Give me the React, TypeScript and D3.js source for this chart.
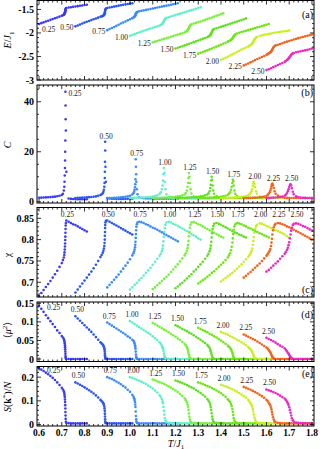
import React from 'react';
import * as d3 from 'd3';

// coupling ratios labelling each curve
const couplings = ['0.25', '0.50', '0.75', '1.00', '1.25', '1.50', '1.75', '2.00', '2.25', '2.50'];
const seriesColors = ['#3a3af5', '#2a55f0', '#3c8cf5', '#5ff0c8', '#78f03c', '#5fe01e', '#6ee614', '#c8f01e', '#f0641e', '#eb28c3'];

// temperatures (T/J1) of every simulated point, one row per coupling
const temps = [
  [0.60, 0.61, 0.62, 0.63, 0.64, 0.65, 0.66, 0.67, 0.68, 0.69, 0.70,
    0.705, 0.709, 0.711, 0.712, 0.713, 0.714, 0.7145, 0.715, 0.7155, 0.716, 0.7165, 0.717, 0.718, 0.72,
    0.73, 0.74, 0.75, 0.76, 0.77, 0.78, 0.79, 0.80, 0.81],
  [0.76, 0.77, 0.78, 0.79, 0.80, 0.81, 0.82, 0.83, 0.84, 0.85, 0.86, 0.87,
    0.875, 0.88, 0.883, 0.885, 0.887, 0.888, 0.889, 0.8895, 0.890, 0.8905, 0.891, 0.892, 0.894,
    0.90, 0.91, 0.92, 0.93, 0.94, 0.95, 0.96, 0.97, 0.98, 0.99, 1.00, 1.01],
  [0.90, 0.91, 0.92, 0.93, 0.94, 0.95, 0.96, 0.97, 0.98, 0.99, 1.00, 1.01,
    1.015, 1.018, 1.02, 1.022, 1.023, 1.024, 1.025, 1.026, 1.027, 1.028, 1.03, 1.033,
    1.04, 1.05, 1.06, 1.07, 1.08, 1.09, 1.10, 1.11, 1.12, 1.13, 1.14, 1.15, 1.16, 1.17, 1.18, 1.19, 1.20, 1.21],
  [1.00, 1.01, 1.02, 1.03, 1.04, 1.05, 1.06, 1.07, 1.08, 1.09, 1.10, 1.11, 1.12, 1.13,
    1.135, 1.14, 1.143, 1.145, 1.147, 1.149, 1.151, 1.153, 1.156, 1.16,
    1.17, 1.18, 1.19, 1.20, 1.21, 1.22, 1.23, 1.24, 1.25, 1.26, 1.27, 1.28, 1.29, 1.30, 1.31],
  [1.10, 1.11, 1.12, 1.13, 1.14, 1.15, 1.16, 1.17, 1.18, 1.19, 1.20, 1.21, 1.22, 1.23, 1.24,
    1.245, 1.25, 1.253, 1.255, 1.257, 1.259, 1.261, 1.263, 1.266, 1.27,
    1.28, 1.29, 1.30, 1.31, 1.32, 1.33, 1.34, 1.35, 1.36, 1.37, 1.38, 1.39, 1.40, 1.41],
  [1.20, 1.21, 1.22, 1.23, 1.24, 1.25, 1.26, 1.27, 1.28, 1.29, 1.30, 1.31, 1.32, 1.33, 1.34,
    1.345, 1.35, 1.353, 1.355, 1.357, 1.359, 1.361, 1.363, 1.366, 1.37,
    1.38, 1.39, 1.40, 1.41, 1.42, 1.43, 1.44, 1.45, 1.46, 1.47, 1.48, 1.49, 1.50, 1.51],
  [1.30, 1.31, 1.32, 1.33, 1.34, 1.35, 1.36, 1.37, 1.38, 1.39, 1.40, 1.41, 1.42, 1.43,
    1.435, 1.44, 1.444, 1.447, 1.45, 1.452, 1.454, 1.456, 1.459, 1.463,
    1.47, 1.48, 1.49, 1.50, 1.51, 1.52, 1.53, 1.54, 1.55, 1.56, 1.57, 1.58, 1.59, 1.60, 1.61],
  [1.40, 1.41, 1.42, 1.43, 1.44, 1.45, 1.46, 1.47, 1.48, 1.49, 1.50, 1.51, 1.52,
    1.525, 1.53, 1.534, 1.537, 1.54, 1.542, 1.544, 1.547, 1.55, 1.554, 1.558,
    1.57, 1.58, 1.59, 1.60, 1.61, 1.62, 1.63, 1.64, 1.65, 1.66, 1.67, 1.68, 1.69, 1.70],
  [1.50, 1.51, 1.52, 1.53, 1.54, 1.55, 1.56, 1.57, 1.58, 1.59, 1.60,
    1.605, 1.61, 1.614, 1.617, 1.62, 1.622, 1.624, 1.626, 1.629, 1.632, 1.636, 1.64,
    1.65, 1.66, 1.67, 1.68, 1.69, 1.70, 1.71, 1.72, 1.73, 1.74, 1.75, 1.76, 1.77, 1.78, 1.79, 1.80],
  [1.60, 1.61, 1.62, 1.63, 1.64, 1.65, 1.66, 1.67, 1.68,
    1.685, 1.69, 1.694, 1.697, 1.70, 1.703, 1.706, 1.709, 1.712, 1.716, 1.72,
    1.73, 1.74, 1.75, 1.76, 1.77, 1.78, 1.79, 1.80],
];

// (a) energy E/J1
const energy = [
  [-1.81, -1.792, -1.775, -1.757, -1.74, -1.722, -1.705, -1.687, -1.67, -1.652, -1.635,
    -1.625, -1.612, -1.60, -1.59, -1.578, -1.565, -1.555, -1.543, -1.53, -1.515, -1.50, -1.49, -1.478, -1.468,
    -1.46, -1.452, -1.445, -1.437, -1.43, -1.422, -1.415, -1.407, -1.40],
  [-1.86, -1.84, -1.82, -1.80, -1.78, -1.762, -1.745, -1.727, -1.71, -1.692, -1.675, -1.657,
    -1.648, -1.638, -1.63, -1.62, -1.605, -1.595, -1.58, -1.565, -1.548, -1.53, -1.512, -1.497, -1.483,
    -1.47, -1.46, -1.45, -1.44, -1.43, -1.42, -1.41, -1.40, -1.393, -1.385, -1.377, -1.37],
  [-1.94, -1.917, -1.895, -1.872, -1.85, -1.825, -1.80, -1.778, -1.755, -1.732, -1.71, -1.685,
    -1.672, -1.662, -1.652, -1.64, -1.63, -1.618, -1.605, -1.592, -1.58, -1.57, -1.56, -1.55,
    -1.54, -1.53, -1.52, -1.51, -1.50, -1.49, -1.48, -1.47, -1.46, -1.45, -1.44, -1.43, -1.42, -1.41, -1.40, -1.39, -1.38, -1.37],
  [-2.06, -2.042, -2.025, -2.007, -1.99, -1.972, -1.955, -1.937, -1.92, -1.905, -1.89, -1.875, -1.86, -1.84,
    -1.83, -1.815, -1.80, -1.785, -1.765, -1.745, -1.728, -1.712, -1.695, -1.68,
    -1.665, -1.65, -1.635, -1.62, -1.605, -1.59, -1.575, -1.56, -1.545, -1.53, -1.515, -1.50, -1.485, -1.47, -1.455],
  [-2.20, -2.185, -2.17, -2.155, -2.14, -2.125, -2.11, -2.095, -2.08, -2.065, -2.05, -2.035, -2.02, -2.005, -1.99,
    -1.975, -1.96, -1.945, -1.93, -1.91, -1.89, -1.87, -1.85, -1.83, -1.815,
    -1.80, -1.785, -1.77, -1.755, -1.74, -1.722, -1.705, -1.688, -1.67, -1.653, -1.636, -1.62, -1.60, -1.58],
  [-2.33, -2.315, -2.30, -2.282, -2.265, -2.248, -2.23, -2.212, -2.195, -2.178, -2.16, -2.142, -2.125, -2.108, -2.09,
    -2.075, -2.06, -2.045, -2.03, -2.01, -1.99, -1.97, -1.95, -1.93, -1.915,
    -1.90, -1.885, -1.87, -1.855, -1.838, -1.82, -1.805, -1.79, -1.773, -1.755, -1.74, -1.725, -1.708, -1.69],
  [-2.44, -2.422, -2.405, -2.387, -2.37, -2.35, -2.33, -2.31, -2.29, -2.27, -2.25, -2.23, -2.21, -2.185,
    -2.172, -2.16, -2.148, -2.135, -2.12, -2.105, -2.088, -2.07, -2.05, -2.03,
    -2.01, -1.996, -1.981, -1.967, -1.953, -1.939, -1.924, -1.91, -1.896, -1.881, -1.867, -1.853, -1.839, -1.824, -1.81],
  [-2.57, -2.55, -2.53, -2.505, -2.48, -2.455, -2.43, -2.405, -2.38, -2.355, -2.33, -2.31, -2.29,
    -2.27, -2.255, -2.24, -2.225, -2.205, -2.185, -2.165, -2.14, -2.12, -2.10, -2.085,
    -2.065, -2.05, -2.04, -2.03, -2.02, -2.01, -2.0, -1.99, -1.985, -1.977, -1.97, -1.963, -1.957, -1.95],
  [-2.69, -2.67, -2.65, -2.625, -2.60, -2.577, -2.555, -2.532, -2.51, -2.49, -2.465,
    -2.45, -2.435, -2.42, -2.41, -2.40, -2.385, -2.365, -2.345, -2.32, -2.30, -2.28, -2.265,
    -2.25, -2.235, -2.22, -2.20, -2.185, -2.17, -2.155, -2.14, -2.125, -2.11, -2.098, -2.085, -2.072, -2.06, -2.047, -2.035],
  [-2.79, -2.77, -2.75, -2.727, -2.705, -2.682, -2.66, -2.64, -2.615,
    -2.595, -2.575, -2.56, -2.545, -2.525, -2.505, -2.485, -2.465, -2.448, -2.435, -2.425,
    -2.41, -2.40, -2.39, -2.38, -2.37, -2.36, -2.345, -2.33],
];

// (b) specific heat C
const heat = [
  [1.6, 1.65, 1.7, 1.75, 1.8, 1.87, 1.95, 2.05, 2.2, 2.4, 2.7,
    3.2, 4.5, 6, 8, 10.5, 13.5, 16.5, 20, 24.5, 44, 38.5, 33, 28.5, 12,
    1.3, 1.15, 1.1, 1.05, 1.05, 1.0, 1.0, 1.0, 1.0],
  [1.5, 1.55, 1.6, 1.65, 1.7, 1.78, 1.85, 1.92, 2.0, 2.15, 2.4, 2.7,
    3.0, 3.4, 4.0, 4.8, 6, 7.5, 9.5, 12, 16, 24, 20.5, 14, 8,
    1.5, 1.3, 1.2, 1.2, 1.15, 1.15, 1.15, 1.15, 1.15, 1.2, 1.2, 1.2],
  [1.4, 1.45, 1.5, 1.55, 1.6, 1.67, 1.75, 1.85, 2.0, 2.2, 2.4, 2.9,
    3.4, 4.0, 4.8, 5.8, 7, 9, 17, 14, 11, 8, 5, 3,
    1.8, 1.5, 1.4, 1.35, 1.3, 1.3, 1.25, 1.25, 1.25, 1.25, 1.25, 1.25, 1.25, 1.25, 1.25, 1.25, 1.25, 1.25],
  [1.5, 1.52, 1.55, 1.57, 1.6, 1.65, 1.7, 1.77, 1.85, 1.95, 2.1, 2.3, 2.6, 3.1,
    3.8, 5, 6.5, 8.5, 11, 13.5, 11.5, 8, 5, 3,
    1.8, 1.6, 1.5, 1.45, 1.4, 1.4, 1.35, 1.35, 1.35, 1.35, 1.35, 1.35, 1.35, 1.35, 1.35],
  [1.5, 1.52, 1.55, 1.57, 1.6, 1.65, 1.7, 1.75, 1.8, 1.9, 2.0, 2.15, 2.3, 2.55, 2.9,
    3.5, 4.5, 6, 7.5, 9.5, 11.5, 10, 7.5, 5, 3.3,
    2.2, 1.8, 1.6, 1.5, 1.45, 1.4, 1.4, 1.4, 1.4, 1.4, 1.4, 1.4, 1.4, 1.4],
  [1.5, 1.52, 1.55, 1.57, 1.6, 1.65, 1.7, 1.75, 1.8, 1.9, 2.0, 2.15, 2.3, 2.55, 2.9,
    3.4, 4.2, 5.5, 6.8, 8.5, 10, 8.8, 6.5, 4.5, 3.2,
    2.2, 1.8, 1.6, 1.55, 1.5, 1.5, 1.5, 1.5, 1.5, 1.5, 1.5, 1.5, 1.5, 1.5],
  [1.5, 1.52, 1.55, 1.57, 1.6, 1.65, 1.7, 1.75, 1.8, 1.9, 2.0, 2.2, 2.4, 2.8,
    3.2, 3.8, 4.8, 6, 7.5, 8.8, 8.2, 6.5, 4.5, 3.2,
    2.3, 1.9, 1.7, 1.6, 1.55, 1.5, 1.5, 1.5, 1.5, 1.5, 1.5, 1.5, 1.5, 1.5, 1.5],
  [1.5, 1.52, 1.55, 1.57, 1.6, 1.65, 1.7, 1.77, 1.85, 1.95, 2.1, 2.3, 2.6,
    3.0, 3.5, 4.2, 5.0, 6.3, 7.3, 8.0, 7.2, 5.8, 4.2, 3.2,
    2.2, 1.8, 1.65, 1.6, 1.5, 1.5, 1.5, 1.5, 1.5, 1.5, 1.5, 1.5, 1.5, 1.5],
  [1.5, 1.52, 1.55, 1.57, 1.6, 1.65, 1.7, 1.8, 1.9, 2.05, 2.3,
    2.7, 3.2, 3.8, 4.5, 5.3, 6.2, 7.0, 7.3, 6.6, 5.5, 4.2, 3.2,
    2.5, 2.0, 1.8, 1.6, 1.55, 1.5, 1.5, 1.5, 1.5, 1.5, 1.5, 1.5, 1.5, 1.5, 1.5, 1.5],
  [1.5, 1.55, 1.6, 1.65, 1.7, 1.8, 1.9, 2.1, 2.4,
    2.8, 3.4, 4.2, 5.0, 5.9, 6.7, 7.0, 6.5, 5.4, 4.0, 3.0,
    2.2, 1.9, 1.7, 1.6, 1.55, 1.5, 1.5, 1.5],
];

// (c) chi
const chi = [
  [0.668, 0.675, 0.682, 0.689, 0.696, 0.703, 0.711, 0.719, 0.727, 0.736, 0.745,
    0.752, 0.758, 0.764, 0.77, 0.777, 0.784, 0.791, 0.799, 0.807, 0.816, 0.825, 0.833, 0.839, 0.845,
    0.842, 0.839, 0.836, 0.834, 0.831, 0.828, 0.825, 0.822, 0.819],
  [0.676, 0.683, 0.69, 0.697, 0.704, 0.711, 0.718, 0.725, 0.733, 0.741, 0.75, 0.759,
    0.764, 0.769, 0.774, 0.779, 0.785, 0.792, 0.8, 0.809, 0.818, 0.827, 0.834, 0.84, 0.844,
    0.845, 0.842, 0.839, 0.836, 0.833, 0.83, 0.827, 0.824, 0.821, 0.818, 0.815, 0.812],
  [0.688, 0.694, 0.70, 0.706, 0.712, 0.718, 0.725, 0.732, 0.739, 0.746, 0.754, 0.763,
    0.768, 0.772, 0.777, 0.782, 0.788, 0.795, 0.804, 0.813, 0.822, 0.83, 0.836, 0.84,
    0.842, 0.841, 0.839, 0.836, 0.834, 0.831, 0.828, 0.826, 0.823, 0.82, 0.817, 0.814, 0.811, 0.808, 0.805, 0.802, 0.799, 0.796],
  [0.683, 0.688, 0.694, 0.699, 0.705, 0.71, 0.716, 0.722, 0.728, 0.734, 0.741, 0.748, 0.755, 0.762,
    0.767, 0.773, 0.779, 0.786, 0.796, 0.807, 0.818, 0.827, 0.835, 0.84,
    0.842, 0.84, 0.837, 0.835, 0.832, 0.829, 0.826, 0.823, 0.82, 0.816, 0.813, 0.81, 0.807, 0.803, 0.80],
  [0.684, 0.688, 0.693, 0.698, 0.703, 0.708, 0.713, 0.718, 0.724, 0.73, 0.736, 0.742, 0.749, 0.756, 0.763,
    0.768, 0.774, 0.78, 0.787, 0.797, 0.808, 0.818, 0.828, 0.835, 0.84,
    0.841, 0.839, 0.836, 0.834, 0.831, 0.828, 0.825, 0.822, 0.819, 0.816, 0.813, 0.81, 0.807, 0.805],
  [0.686, 0.69, 0.695, 0.699, 0.704, 0.709, 0.714, 0.719, 0.725, 0.73, 0.736, 0.742, 0.748, 0.755, 0.762,
    0.767, 0.773, 0.779, 0.786, 0.795, 0.805, 0.815, 0.825, 0.832, 0.837,
    0.839, 0.837, 0.835, 0.832, 0.829, 0.826, 0.823, 0.82, 0.817, 0.815, 0.812, 0.81, 0.807, 0.805],
  [0.697, 0.701, 0.705, 0.709, 0.713, 0.717, 0.722, 0.726, 0.731, 0.736, 0.741, 0.746, 0.752, 0.758,
    0.763, 0.768, 0.775, 0.783, 0.793, 0.803, 0.813, 0.823, 0.831, 0.836,
    0.839, 0.838, 0.836, 0.833, 0.831, 0.828, 0.826, 0.823, 0.82, 0.818, 0.815, 0.813, 0.81, 0.808, 0.805],
  [0.702, 0.706, 0.71, 0.714, 0.718, 0.722, 0.727, 0.732, 0.737, 0.742, 0.748, 0.754, 0.76,
    0.764, 0.768, 0.773, 0.779, 0.788, 0.797, 0.806, 0.816, 0.825, 0.831, 0.835,
    0.838, 0.837, 0.835, 0.832, 0.83, 0.827, 0.825, 0.822, 0.82, 0.817, 0.815, 0.812, 0.808, 0.805],
  [0.711, 0.715, 0.72, 0.724, 0.729, 0.734, 0.739, 0.744, 0.75, 0.756, 0.762,
    0.766, 0.77, 0.774, 0.778, 0.785, 0.793, 0.802, 0.812, 0.822, 0.829, 0.834, 0.837,
    0.839, 0.838, 0.836, 0.834, 0.831, 0.829, 0.826, 0.823, 0.82, 0.818, 0.815, 0.812, 0.809, 0.806, 0.803, 0.80],
  [0.725, 0.729, 0.734, 0.739, 0.744, 0.749, 0.755, 0.761, 0.767,
    0.771, 0.776, 0.781, 0.787, 0.794, 0.803, 0.812, 0.821, 0.828, 0.834, 0.837,
    0.838, 0.837, 0.835, 0.832, 0.83, 0.827, 0.824, 0.821],
];

// (d) <mu^2>
const mu2 = [
  [0.143, 0.135, 0.127, 0.118, 0.110, 0.102, 0.094, 0.086, 0.077, 0.07, 0.062,
    0.058, 0.054, 0.05, 0.046, 0.042, 0.037, 0.032, 0.026, 0.02, 0.014, 0.008, 0.004, 0.001, 0,
    0, 0, 0, 0, 0, 0, 0, 0, 0],
  [0.115, 0.109, 0.103, 0.097, 0.091, 0.085, 0.079, 0.073, 0.066, 0.059, 0.052, 0.045,
    0.042, 0.039, 0.036, 0.033, 0.029, 0.025, 0.02, 0.015, 0.01, 0.006, 0.003, 0.001, 0,
    0, 0, 0, 0, 0, 0, 0, 0, 0, 0, 0, 0],
  [0.098, 0.094, 0.09, 0.086, 0.082, 0.078, 0.074, 0.07, 0.066, 0.061, 0.057, 0.052,
    0.049, 0.046, 0.042, 0.037, 0.033, 0.028, 0.02, 0.012, 0.006, 0.003, 0.001, 0,
    0, 0, 0, 0, 0, 0, 0, 0, 0, 0, 0, 0, 0, 0, 0, 0, 0, 0],
  [0.102, 0.098, 0.094, 0.09, 0.086, 0.082, 0.078, 0.074, 0.07, 0.066, 0.061, 0.056, 0.051, 0.045,
    0.041, 0.036, 0.032, 0.028, 0.022, 0.015, 0.009, 0.005, 0.002, 0.001,
    0, 0, 0, 0, 0, 0, 0, 0, 0, 0, 0, 0, 0, 0, 0],
  [0.097, 0.094, 0.09, 0.087, 0.083, 0.079, 0.076, 0.072, 0.068, 0.064, 0.06, 0.055, 0.051, 0.046, 0.041,
    0.037, 0.032, 0.027, 0.022, 0.016, 0.011, 0.006, 0.003, 0.001, 0,
    0, 0, 0, 0, 0, 0, 0, 0, 0, 0, 0, 0, 0, 0],
  [0.091, 0.088, 0.085, 0.081, 0.078, 0.075, 0.071, 0.068, 0.064, 0.06, 0.056, 0.052, 0.047, 0.043, 0.038,
    0.034, 0.03, 0.025, 0.021, 0.016, 0.011, 0.006, 0.003, 0.001, 0,
    0, 0, 0, 0, 0, 0, 0, 0, 0, 0, 0, 0, 0, 0],
  [0.084, 0.081, 0.078, 0.075, 0.072, 0.068, 0.065, 0.061, 0.058, 0.054, 0.05, 0.046, 0.041, 0.036,
    0.033, 0.03, 0.026, 0.022, 0.017, 0.012, 0.007, 0.003, 0.001, 0,
    0, 0, 0, 0, 0, 0, 0, 0, 0, 0, 0, 0, 0, 0, 0],
  [0.073, 0.07, 0.068, 0.065, 0.062, 0.059, 0.056, 0.052, 0.049, 0.045, 0.041, 0.037, 0.032,
    0.029, 0.026, 0.022, 0.019, 0.015, 0.011, 0.008, 0.004, 0.002, 0.001, 0,
    0, 0, 0, 0, 0, 0, 0, 0, 0, 0, 0, 0, 0, 0],
  [0.066, 0.063, 0.06, 0.057, 0.054, 0.051, 0.047, 0.043, 0.039, 0.035, 0.031,
    0.028, 0.024, 0.021, 0.018, 0.014, 0.011, 0.008, 0.005, 0.003, 0.001, 0, 0,
    0, 0, 0, 0, 0, 0, 0, 0, 0, 0, 0, 0, 0, 0, 0, 0],
  [0.057, 0.054, 0.051, 0.048, 0.044, 0.04, 0.036, 0.033, 0.029,
    0.025, 0.021, 0.017, 0.014, 0.011, 0.008, 0.005, 0.003, 0.001, 0, 0,
    0, 0, 0, 0, 0, 0, 0, 0],
];

// (e) S(k*)/N
const sk = [
  [0.238, 0.232, 0.226, 0.219, 0.212, 0.205, 0.197, 0.188, 0.178, 0.167, 0.155,
    0.148, 0.14, 0.133, 0.125, 0.116, 0.106, 0.095, 0.082, 0.068, 0.053, 0.038, 0.024, 0.012, 0.007,
    0.006, 0.005, 0.005, 0.005, 0.005, 0.005, 0.005, 0.005, 0.005],
  [0.178, 0.173, 0.168, 0.163, 0.157, 0.151, 0.145, 0.138, 0.131, 0.123, 0.114, 0.104,
    0.099, 0.094, 0.089, 0.084, 0.076, 0.068, 0.058, 0.046, 0.034, 0.022, 0.013, 0.008, 0.006,
    0.005, 0.005, 0.005, 0.005, 0.005, 0.005, 0.005, 0.005, 0.005, 0.005, 0.005, 0.005],
  [0.2, 0.196, 0.192, 0.187, 0.182, 0.176, 0.17, 0.163, 0.156, 0.147, 0.138, 0.126,
    0.118, 0.111, 0.104, 0.095, 0.085, 0.074, 0.055, 0.036, 0.022, 0.013, 0.008, 0.006,
    0.005, 0.005, 0.005, 0.005, 0.005, 0.005, 0.005, 0.005, 0.005, 0.005, 0.005, 0.005, 0.005, 0.005, 0.005, 0.005, 0.005, 0.005],
  [0.2, 0.197, 0.193, 0.189, 0.185, 0.181, 0.176, 0.171, 0.165, 0.159, 0.152, 0.144, 0.135, 0.124,
    0.117, 0.108, 0.098, 0.09, 0.075, 0.058, 0.042, 0.028, 0.017, 0.011,
    0.008, 0.006, 0.005, 0.005, 0.005, 0.005, 0.005, 0.005, 0.005, 0.005, 0.005, 0.005, 0.005, 0.005, 0.005],
  [0.19, 0.187, 0.183, 0.179, 0.175, 0.171, 0.166, 0.161, 0.156, 0.15, 0.144, 0.137, 0.129, 0.121, 0.111,
    0.103, 0.094, 0.085, 0.075, 0.062, 0.047, 0.033, 0.021, 0.013, 0.009,
    0.007, 0.006, 0.005, 0.005, 0.005, 0.005, 0.005, 0.005, 0.005, 0.005, 0.005, 0.005, 0.005, 0.005],
  [0.186, 0.183, 0.179, 0.175, 0.171, 0.167, 0.162, 0.157, 0.152, 0.146, 0.14, 0.133, 0.126, 0.118, 0.108,
    0.101, 0.093, 0.084, 0.074, 0.062, 0.048, 0.034, 0.022, 0.014, 0.009,
    0.007, 0.006, 0.005, 0.005, 0.005, 0.005, 0.005, 0.005, 0.005, 0.005, 0.005, 0.005, 0.005, 0.005],
  [0.178, 0.175, 0.171, 0.167, 0.163, 0.159, 0.154, 0.149, 0.144, 0.138, 0.132, 0.125, 0.117, 0.107,
    0.101, 0.095, 0.087, 0.078, 0.066, 0.054, 0.04, 0.027, 0.017, 0.011,
    0.008, 0.006, 0.005, 0.005, 0.005, 0.005, 0.005, 0.005, 0.005, 0.005, 0.005, 0.005, 0.005, 0.005, 0.005],
  [0.168, 0.165, 0.161, 0.157, 0.153, 0.149, 0.144, 0.139, 0.133, 0.127, 0.12, 0.113, 0.104,
    0.097, 0.09, 0.083, 0.076, 0.066, 0.055, 0.043, 0.03, 0.02, 0.013, 0.009,
    0.007, 0.006, 0.005, 0.005, 0.005, 0.005, 0.005, 0.005, 0.005, 0.005, 0.005, 0.005, 0.005, 0.005],
  [0.159, 0.155, 0.151, 0.147, 0.142, 0.137, 0.132, 0.126, 0.12, 0.113, 0.105,
    0.099, 0.092, 0.086, 0.08, 0.072, 0.064, 0.053, 0.042, 0.031, 0.021, 0.014, 0.01,
    0.008, 0.006, 0.005, 0.005, 0.005, 0.005, 0.005, 0.005, 0.005, 0.005, 0.005, 0.005, 0.005, 0.005, 0.005, 0.005],
  [0.148, 0.145, 0.141, 0.137, 0.133, 0.128, 0.122, 0.116, 0.11,
    0.104, 0.097, 0.09, 0.083, 0.073, 0.062, 0.05, 0.038, 0.027, 0.018, 0.012,
    0.009, 0.007, 0.006, 0.005, 0.005, 0.005, 0.005, 0.005],
];

const xTicks = [0.6, 0.7, 0.8, 0.9, 1.0, 1.1, 1.2, 1.3, 1.4, 1.5, 1.6, 1.7, 1.8];
const energyTicks = [-3, -2.5, -2, -1.5];
const heatTicks = [0, 20, 40];
const chiTicks = [0.7, 0.75, 0.8, 0.85];
const mu2Ticks = [0, 0.05, 0.1, 0.15];
const skTicks = [0, 0.1, 0.2];

const W = 320;
const H = 449;
const LEFT = 37;
const RIGHT = 314;
const SERIF = '"Liberation Serif", "DejaVu Serif", serif';

const x = d3.scaleLinear().domain([0.591, 1.809]).range([LEFT, RIGHT]);

function steps(d0: number, d1: number, step: number) {
  const out: number[] = [];
  for (let k = Math.ceil(d0 / step - 1e-6); k * step <= d1 + 1e-9; k++) out.push(+(k * step).toFixed(6));
  return out;
}

function argmax(v: number[]) {
  let b = 0;
  v.forEach((d, i) => { if (d > v[b]) b = i; });
  return b;
}

const sub = (s: string) => <tspan dy={2.5} fontSize={7} fontStyle="normal">{s}</tspan>;

const panels = [
  {
    id: 'a', values: energy, top: 0.5, bottom: 80, domain: [-3, -1.31], ticks: energyTicks, minor: 0.1,
    letter: '(a)', letterY: 18, titleY: 40,
    title: <><tspan fontStyle="italic">E</tspan>/<tspan fontStyle="italic">J</tspan>{sub('1')}</>,
    label: (i: number, ts: number[], vs: number[], y: any) =>
      i === 0 ? { lx: x(ts[0]) + 3, ly: y(vs[0]) + 8, anchor: 'start' } : { lx: x(ts[0]) - 2, ly: y(vs[0]) + 4, anchor: 'end' },
  },
  {
    id: 'b', values: heat, top: 85, bottom: 203, domain: [-0.5, 46.7], ticks: heatTicks, minor: 5,
    letter: '(b)', letterY: 96, titleY: 145,
    title: <tspan fontStyle="italic">C</tspan>,
    label: (i: number, ts: number[], vs: number[], y: any) => {
      const p = argmax(vs);
      return i === 0 ? { lx: x(ts[p]) + 3, ly: y(vs[p]) + 4, anchor: 'start' } : { lx: x(ts[p]) + 1, ly: y(vs[p]) - 3, anchor: 'middle' };
    },
  },
  {
    id: 'c', values: chi, top: 207.5, bottom: 297, domain: [0.6655, 0.8753], ticks: chiTicks, minor: 0.01,
    letter: '(c)', letterY: 293, titleY: 255,
    title: <tspan>χ</tspan>,
    label: (i: number, ts: number[], vs: number[], y: any) => {
      const p = argmax(vs);
      return { lx: x(ts[p]) + 1, ly: 216.5, anchor: 'middle' };
    },
  },
  {
    id: 'd', values: mu2, top: 302, bottom: 361.5, domain: [-0.0067, 0.1535], ticks: mu2Ticks, minor: 0.01,
    letter: '(d)', letterY: 318, titleY: 330,
    title: <>⟨<tspan fontStyle="italic">μ</tspan><tspan dy={-4} fontSize={7}>2</tspan><tspan dy={4}>⟩</tspan></>,
    label: (i: number, ts: number[], vs: number[], y: any) =>
      i === 0 ? { lx: x(ts[0]) + 8, ly: y(vs[0]) + 4, anchor: 'start' } : { lx: x(ts[0]) + 2, ly: y(vs[0]) - 4, anchor: 'middle' },
  },
  {
    id: 'e', values: sk, top: 366.5, bottom: 426, domain: [-0.006, 0.245], ticks: skTicks, minor: 0.02,
    letter: '(e)', letterY: 377, titleY: 397,
    title: <><tspan fontStyle="italic">S</tspan>(<tspan fontWeight="bold">k</tspan><tspan dy={-4} fontSize={7}>*</tspan><tspan dy={4}>)/</tspan><tspan fontStyle="italic">N</tspan></>,
    label: (i: number, ts: number[], vs: number[], y: any) =>
      i === 0 ? { lx: x(ts[0]) + 8, ly: y(vs[0]) + 5, anchor: 'start' } : { lx: x(ts[0]) + 3, ly: y(vs[0]) - 4, anchor: 'middle' },
  },
];

function Panel({ p, isLast }: { p: any; isLast: boolean }) {
  const y = d3.scaleLinear().domain(p.domain).range([p.bottom, p.top]);
  const xMinor = steps(0.6, 1.8, 0.02);
  const yMinor = steps(p.domain[0], p.domain[1], p.minor);
  return (
    <g>
      {couplings.map((c, i) => {
        const ts = temps[i];
        const vs = p.values[i];
        const n = Math.min(ts.length, vs.length);
        return (
          <g key={c} fill={seriesColors[i]}>
            {d3.range(n).map(k => (
              <circle key={k} cx={x(ts[k])} cy={y(vs[k])} r={1.3} />
            ))}
          </g>
        );
      })}
      {couplings.map((c, i) => {
        const l = p.label(i, temps[i], p.values[i], y);
        return (
          <text key={c} x={l.lx} y={l.ly} textAnchor={l.anchor} fontSize={7.5} fill="#222">{c}</text>
        );
      })}
      <rect x={LEFT} y={p.top} width={RIGHT - LEFT} height={p.bottom - p.top} fill="none" stroke="#000" strokeWidth={1} />
      {xMinor.map(t => {
        const major = xTicks.some(m => Math.abs(m - t) < 1e-6);
        const len = major ? 4 : 2;
        return (
          <g key={t} stroke="#000" strokeWidth={0.8}>
            <line x1={x(t)} x2={x(t)} y1={p.bottom} y2={p.bottom - len} />
            <line x1={x(t)} x2={x(t)} y1={p.top} y2={p.top + len} />
          </g>
        );
      })}
      {yMinor.map(v => {
        const major = p.ticks.some((m: number) => Math.abs(m - v) < 1e-6);
        const len = major ? 4 : 2;
        return (
          <g key={v} stroke="#000" strokeWidth={0.8}>
            <line x1={LEFT} x2={LEFT + len} y1={y(v)} y2={y(v)} />
            <line x1={RIGHT} x2={RIGHT - len} y1={y(v)} y2={y(v)} />
          </g>
        );
      })}
      {p.ticks.map((v: number) => (
        <text key={v} x={LEFT - 3} y={y(v) + 3.5} textAnchor="end" fontSize={10} fontWeight="bold">{String(v)}</text>
      ))}
      <text x={313} y={p.letterY} textAnchor="end" fontSize={10}>{p.letter}</text>
      <text transform={`translate(11,${p.titleY}) rotate(-90)`} textAnchor="middle" fontSize={10}>{p.title}</text>
      {isLast && xTicks.map(t => (
        <text key={t} x={x(t)} y={435.5} textAnchor="middle" fontSize={9.5} fontWeight="bold">{t.toFixed(1)}</text>
      ))}
    </g>
  );
}

export default function App() {
  return (
    <svg width={W} height={H} style={{ position: 'absolute', left: 0, top: 0, background: '#fff' }} fontFamily={SERIF}>
      {panels.map((p, i) => <Panel key={p.id} p={p} isLast={i === panels.length - 1} />)}
      <text x={176} y={446.5} textAnchor="middle" fontSize={10}>
        <tspan fontStyle="italic">T</tspan>/<tspan fontStyle="italic">J</tspan><tspan dy={2} fontSize={7}>1</tspan>
      </text>
    </svg>
  );
}
